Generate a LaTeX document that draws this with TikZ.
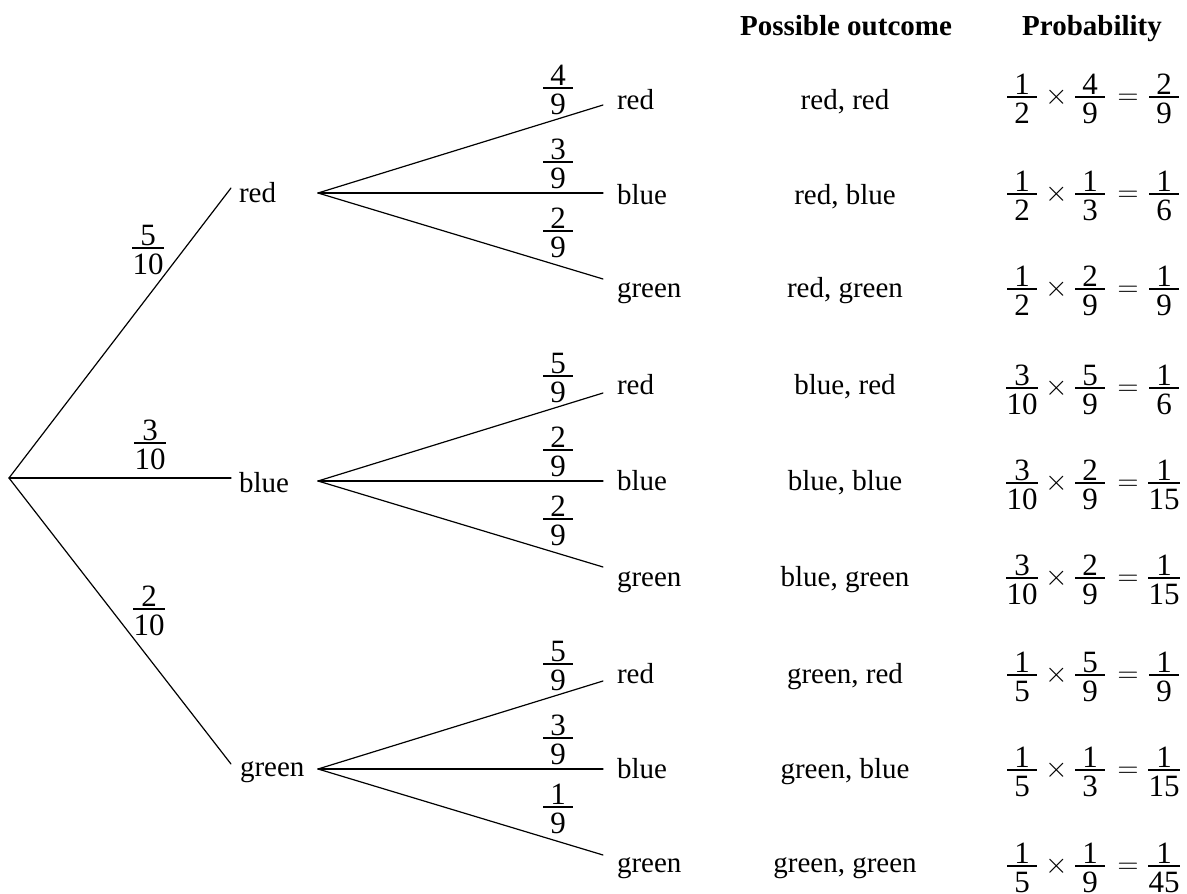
\RequirePackage{fix-cm}
\documentclass[tikz,border=0pt]{standalone}
\usepackage{fontspec}
\setmainfont{Liberation Serif}
\newlength\frcw
\newcommand\frc[2]{%
  \begingroup
  \fontsize{31}{36}\selectfont
  \setbox0=\hbox{#1}\setbox2=\hbox{#2}%
  \frcw=\wd0
  \ifdim\wd2>\frcw \frcw=\wd2 \fi
  \advance\frcw by 1pt
  \ifdim\frcw<30pt \frcw=30pt \fi
  \hbox to \frcw{%
    \rlap{\raise 3.0pt\hbox to \frcw{\hss\box0\hss}}%
    \rlap{\vrule height 0.7pt depth 0.7pt width \frcw}%
    \lower 26.5pt\hbox to \frcw{\hss\box2\hss}}%
  \endgroup}
\newcommand\prow[6]{%
  \makebox[44pt]{\frc{#1}{#2}}%
  \makebox[26pt]{\lower7.3pt\hbox{$\times$}}%
  \makebox[40pt]{\frc{#3}{#4}}%
  \makebox[36pt]{\lower7.3pt\hbox{$=$}}%
  \makebox[36pt]{\frc{#5}{#6}}}
\begin{document}
\begin{tikzpicture}[x=1pt,y=-1pt,
  every node/.style={inner sep=0pt, outer sep=0pt, font=\fontsize{29}{34}\selectfont},
  lbl/.style={anchor=base west},
  outc/.style={anchor=base},
  prob/.style={anchor=base west},
  frl/.style={anchor=base},
  hdr/.style={anchor=base, font=\fontsize{29}{34}\selectfont\bfseries},
  br/.style={line width=1.2pt, line cap=round}]
\useasboundingbox (0,0) rectangle (1187,894);

% headers
\node[hdr] (h1) at (846,35.5) {Possible outcome};
\node[hdr] (h2) at (1092,35.5) {Probability};

% first level
\coordinate (root) at (9,478);
\coordinate (e1) at (231,188);
\coordinate (e2) at (231,478);
\coordinate (e3) at (231,764);
\draw[br] (root) -- (e1);
\draw[br] (root) -- (e2);
\draw[br] (root) -- (e3);
\node[lbl] (l1) at (239,202) {red};
\node[lbl] (l2) at (239,492) {blue};
\node[lbl] (l3) at (240,776) {green};
\node[frl] (f1) at (148,248) {\frc{5}{10}};
\node[frl] (f2) at (150,443) {\frc{3}{10}};
\node[frl] (f3) at (149,609) {\frc{2}{10}};

% second level
\foreach \g/\vy/\na/\nb/\nc in {1/193/4/3/2, 2/481/5/2/2, 3/769/5/3/1} {
  \coordinate (v\g) at (318,\vy);
  \coordinate (v\g a) at (603,\vy-88);
  \coordinate (v\g b) at (603,\vy);
  \coordinate (v\g c) at (603,\vy+86);
  \draw[br] (v\g) -- (v\g a);
  \draw[br] (v\g) -- (v\g b);
  \draw[br] (v\g) -- (v\g c);
  \node[frl] (g\g a) at (558,\vy-105) {\frc{\na}{9}};
  \node[frl] (g\g b) at (558,\vy-31) {\frc{\nb}{9}};
  \node[frl] (g\g c) at (558,\vy+38) {\frc{\nc}{9}};
}

% second-level labels and outcomes
\foreach \i/\b/\lab/\out in {1/109/red/{red, red}, 2/204/blue/{red, blue}, 3/297/green/{red, green},
  4/394/red/{blue, red}, 5/490/blue/{blue, blue}, 6/586/green/{blue, green},
  7/683/red/{green, red}, 8/778/blue/{green, blue}, 9/872/green/{green, green}} {
  \node[lbl] (m\i) at (617,\b) {\lab};
  \node[outc] (o\i) at (845,\b) {\out};
}

% probabilities
\node[prob] (p1) at (1000,97)  {\prow{1}{2}{4}{9}{2}{9}};
\node[prob] (p2) at (1000,194) {\prow{1}{2}{1}{3}{1}{6}};
\node[prob] (p3) at (1000,289) {\prow{1}{2}{2}{9}{1}{9}};
\node[prob] (p4) at (1000,388) {\prow{3}{10}{5}{9}{1}{6}};
\node[prob] (p5) at (1000,483) {\prow{3}{10}{2}{9}{1}{15}};
\node[prob] (p6) at (1000,578) {\prow{3}{10}{2}{9}{1}{15}};
\node[prob] (p7) at (1000,675) {\prow{1}{5}{5}{9}{1}{9}};
\node[prob] (p8) at (1000,770) {\prow{1}{5}{1}{3}{1}{15}};
\node[prob] (p9) at (1000,866) {\prow{1}{5}{1}{9}{1}{45}};
\end{tikzpicture}
\end{document}
